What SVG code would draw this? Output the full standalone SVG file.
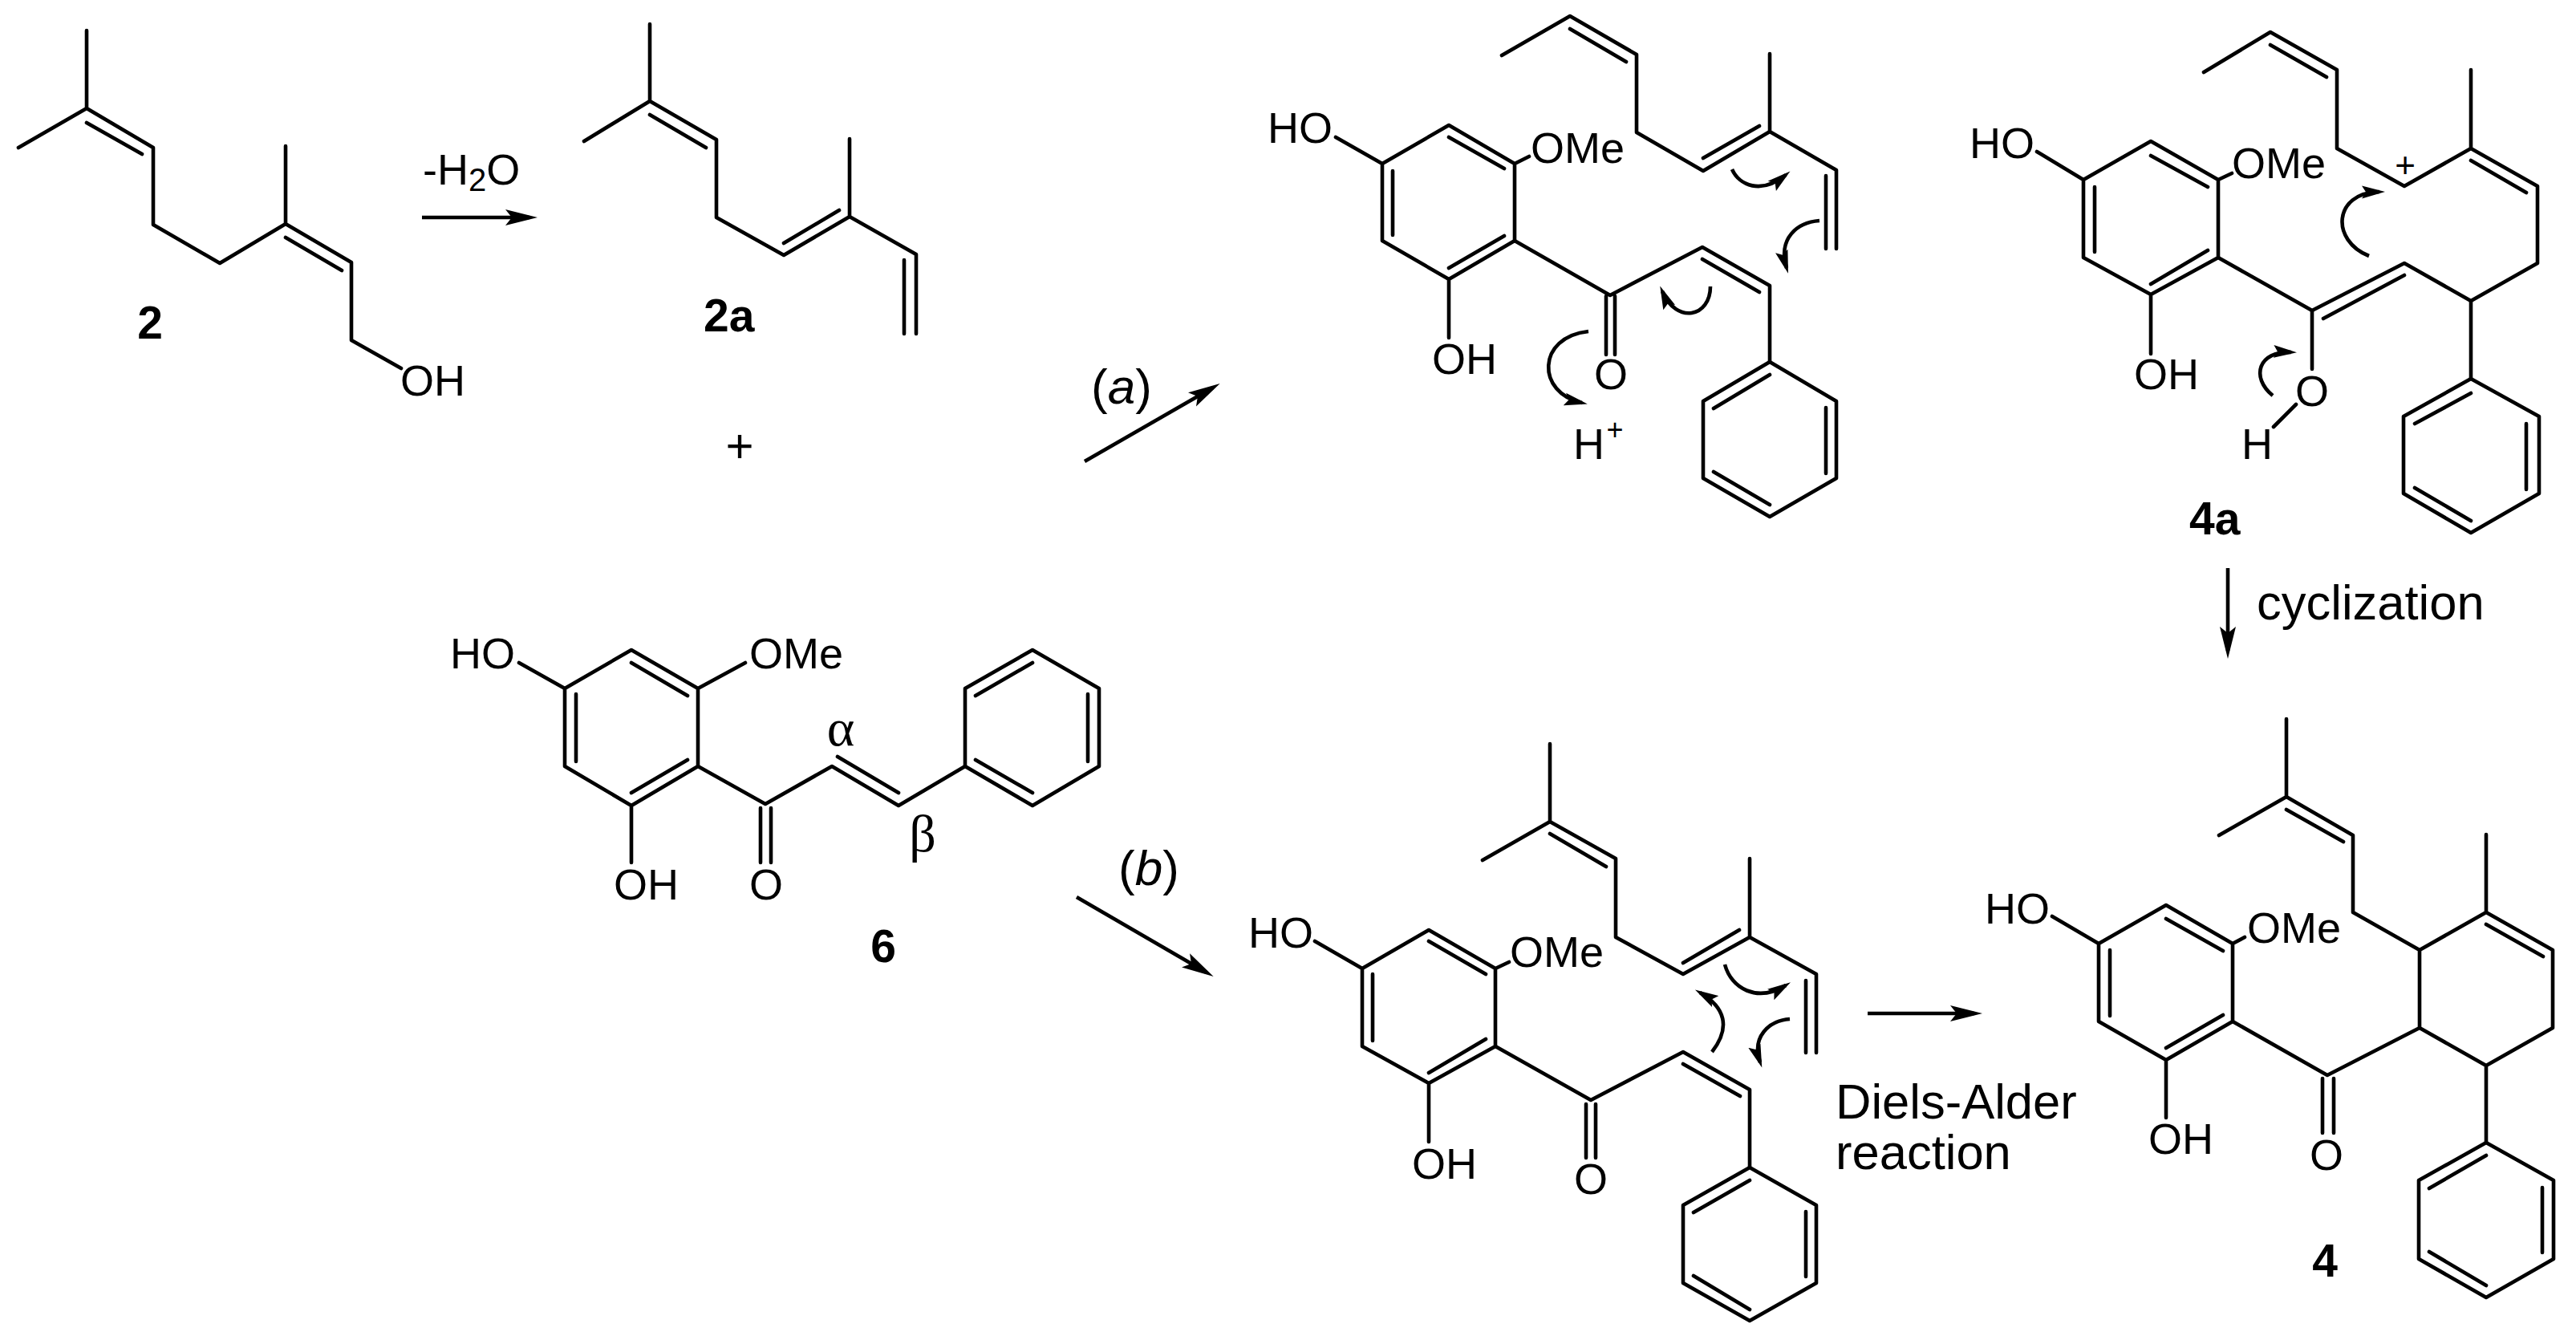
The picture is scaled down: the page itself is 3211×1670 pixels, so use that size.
<svg xmlns="http://www.w3.org/2000/svg" width="3211" height="1670" viewBox="0 0 3211 1670">
<style>
.b{fill:none;stroke:#000;stroke-width:4.6;stroke-linejoin:round;stroke-linecap:round}
.a{fill:none;stroke:#000;stroke-width:4.6}
.s{marker-end:url(#big)}
.c{marker-end:url(#small)}
text{font-family:"Liberation Sans",Arial,sans-serif;font-size:54px;fill:#000}
.l{font-weight:bold;font-size:57px}
.t{font-size:61.5px}
.g{font-family:"Liberation Serif","Times New Roman",serif;font-size:66px}
.m{text-anchor:middle}
</style>
<defs>
<marker id="big" markerUnits="userSpaceOnUse" markerWidth="42" markerHeight="22" refX="30" refY="11" orient="auto"><path d="M40,11 L0,1 L8,11 L0,21Z"/></marker>
<marker id="small" markerUnits="userSpaceOnUse" markerWidth="31" markerHeight="18" refX="22" refY="9" orient="auto"><path d="M29,9 L0,1 L5,9 L0,17Z"/></marker>
</defs>
<rect width="3211" height="1670" fill="#fff"/>

<g id="connectors">
<path class="a s" d="M526,271 L660,271"/>
<path class="a s" d="M1352,575 L1512,483"/>
<path class="a s" d="M1342,1118 L1504,1212"/>
<path class="a s" d="M2777,708 L2777,811"/>
<path class="a s" d="M2328,1263 L2461,1263"/>
<path class="a c" d="M2159,211 C2168,231 2195,243 2226,218"/>
<path class="a c" d="M2268,275 C2240,277 2216,297 2227,334"/>
<path class="a c" d="M2132,357 C2132,395 2090,405 2072,363"/>
<path class="a c" d="M1980,413 C1915,420 1915,490 1972,502"/>
<path class="a c" d="M2953,319 C2905,300 2908,240 2966,239"/>
<path class="a c" d="M2833,493 C2805,470 2815,437 2856,439"/>
<path class="a c" d="M2150,1202 C2158,1232 2190,1250 2226,1228"/>
<path class="a c" d="M2231,1270 C2205,1272 2183,1292 2194,1324"/>
<path class="a c" d="M2134,1311 C2158,1280 2150,1255 2119,1237"/>
</g>

<g id="node-2">
<path class="b" d="M108,38 L108,135 M23,184 L108,135 L191,184 L191,280 L274,328 L356,279 L438,327 L438,424 L500,459 M356,182 L356,279 M108,153 L177,192 M356,296 L426,337"/>
<text x="499" y="493">OH</text>
<text class="l m" x="187" y="422">2</text>
</g>

<g id="label-dehydration">
<text x="527" y="230">-H<tspan style="font-size:40px" dy="8">2</tspan><tspan dy="-8">O</tspan></text>
</g>

<g id="node-2a">
<path class="b" d="M810,30 L810,126 M728,176 L810,126 L893,174 L893,271 L977,318 L1059,270 L1142,317 L1142,416 M1059,173 L1059,270 M1127,324 L1127,416 M810,143 L880,184 M977,303 L1046,262"/>
<text class="l" x="877" y="413">2a</text>
</g>

<g id="plus"><text class="m" style="font-size:60px" x="922" y="576">+</text></g>

<g id="label-a"><text style="font-size:62px" x="1360" y="503">(<tspan font-style="italic">a</tspan>)</text></g>
<g id="label-b"><text style="font-size:62px" x="1394" y="1103">(<tspan font-style="italic">b</tspan>)</text></g>

<g id="node-intermediate-a">
<path class="b" d="M1872,69 L1957,20 L2040,68 L2040,165 L2123,213 L2206,164 L2289,212 L2289,310 M2206,67 L2206,164 M2276,219 L2276,310 M1957,36 L2027,77 M2123,197 L2193,157"/>
<path class="b" d="M1806,156 L1888,204 L1888,300 L1806,348 L1723,300 L1723,204 Z M1806,171 L1875,210 M1736,213 L1736,293 M1806,334 L1875,294 M1806,348 L1806,421 M1723,204 L1665,171 M1888,204 L1906,195"/>
<path class="b" d="M1888,300 L2007,368 L2122,308 L2206,356 L2206,451 M2122,323 L2193,364 M2002,369 L2002,442 M2013,369 L2013,442"/>
<path class="b" d="M2206,451 L2289,500 L2289,596 L2206,644 L2123,596 L2123,500 Z M2206,467 L2136,509 M2276,508 L2276,590 M2206,629 L2136,588"/>
<text x="1580" y="178">HO</text>
<text x="1908" y="203">OMe</text>
<text x="1785" y="466">OH</text>
<text class="m" x="2008" y="485">O</text>
<text x="1961" y="572">H</text>
<text class="m" style="font-size:36px" x="2013" y="548">+</text>
</g>

<g id="node-4a">
<path class="b" d="M2747,90 L2830,40 L2913,87 L2913,185 L2997,232 L3080,185 L3163,232 L3163,328 L3080,375 L2997,328 L2882,387 L2765,321 M3080,87 L3080,185 M2830,56 L2900,96 M3080,200 L3149,240 M2896,397 L2997,343"/>
<path class="b" d="M2681,176 L2765,224 L2765,321 L2681,367 L2597,321 L2597,224 Z M2681,194 L2752,233 M2611,233 L2611,314 M2681,354 L2752,312 M2597,224 L2539,189 M2765,224 L2782,216 M2681,367 L2681,441"/>
<path class="b" d="M2882,387 L2882,460 M2862,504 L2834,532 M3080,375 L3080,472"/>
<path class="b" d="M3080,472 L3165,519 L3165,615 L3080,664 L2996,615 L2996,519 Z M3080,490 L3010,528 M3149,528 L3149,610 M3080,649 L3010,608"/>
<text x="2455" y="197">HO</text>
<text x="2782" y="222">OMe</text>
<text x="2660" y="485">OH</text>
<text class="m" x="2882" y="506">O</text>
<text x="2794" y="572">H</text>
<text class="m" style="font-size:44px" x="2998" y="221">+</text>
<text class="l" x="2729" y="666">4a</text>
</g>

<g id="label-cyclization"><text class="t" x="2813" y="772">cyclization</text></g>

<g id="node-6">
<path class="b" d="M787,810 L870,858 L870,955 L787,1004 L704,955 L704,858 Z M787,826 L857,867 M718,865 L718,949 M787,988 L857,947 M704,858 L647,826 M870,858 L929,826 M787,1004 L787,1075"/>
<path class="b" d="M870,955 L954,1002 L1037,955 L1120,1004 L1203,955 M1044,943 L1120,988 M948,1007 L948,1075 M961,1007 L961,1075"/>
<path class="b" d="M1203,955 L1203,858 L1287,810 L1370,858 L1370,955 L1287,1004 Z M1216,867 L1287,826 M1356,865 L1356,949 M1216,947 L1287,988"/>
<text x="561" y="833">HO</text>
<text x="934" y="833">OMe</text>
<text class="g m" x="1048" y="929">α</text>
<text class="g m" x="1150" y="1061">β</text>
<text x="765" y="1121">OH</text>
<text class="m" x="955" y="1121">O</text>
<text class="l m" x="1101" y="1199">6</text>
</g>

<g id="node-intermediate-b">
<path class="b" d="M1932,927 L1932,1024 M1848,1072 L1932,1024 L2014,1070 L2014,1168 L2098,1214 L2181,1168 L2264,1214 L2264,1312 M2181,1070 L2181,1168 M2251,1222 L2251,1312 M1932,1039 L2002,1080 M2098,1200 L2168,1159"/>
<path class="b" d="M1781,1159 L1864,1207 L1864,1304 L1781,1350 L1698,1304 L1698,1207 Z M1781,1173 L1852,1214 M1711,1214 L1711,1297 M1781,1337 L1852,1295 M1698,1207 L1639,1173 M1864,1207 L1881,1199 M1781,1350 L1781,1423"/>
<path class="b" d="M1864,1304 L1983,1371 L2098,1311 L2181,1358 L2181,1455 M2098,1326 L2169,1366 M1977,1376 L1977,1443 M1989,1376 L1989,1443"/>
<path class="b" d="M2181,1455 L2264,1502 L2264,1599 L2181,1646 L2098,1599 L2098,1502 Z M2181,1471 L2111,1511 M2251,1510 L2251,1591 M2181,1632 L2111,1590"/>
<text x="1556" y="1181">HO</text>
<text x="1882" y="1205">OMe</text>
<text x="1760" y="1469">OH</text>
<text class="m" x="1983" y="1488">O</text>
</g>

<g id="label-diels-alder">
<text class="t" x="2288" y="1394">Diels-Alder</text>
<text class="t" x="2288" y="1457">reaction</text>
</g>

<g id="node-4">
<path class="b" d="M2850,896 L2850,993 M2766,1041 L2850,993 L2933,1041 L2933,1137 L3016,1184 L3099,1137 L3182,1184 L3182,1281 L3099,1328 L3016,1281 L3016,1184 M3099,1040 L3099,1137 M2850,1009 L2921,1049 M3099,1152 L3170,1192 M3016,1281 L2901,1340 L2783,1273 M3099,1328 L3099,1424"/>
<path class="b" d="M2700,1128 L2783,1176 L2783,1273 L2700,1321 L2616,1273 L2616,1176 Z M2700,1145 L2771,1185 M2630,1184 L2630,1266 M2700,1306 L2771,1265 M2616,1176 L2558,1142 M2783,1176 L2798,1168 M2700,1321 L2700,1393"/>
<path class="b" d="M2895,1344 L2895,1412 M2909,1344 L2909,1412"/>
<path class="b" d="M3099,1424 L3183,1471 L3183,1569 L3099,1617 L3015,1569 L3015,1471 Z M3099,1440 L3028,1481 M3169,1480 L3169,1561 M3099,1602 L3028,1560"/>
<text x="2474" y="1151">HO</text>
<text x="2801" y="1175">OMe</text>
<text x="2678" y="1438">OH</text>
<text class="m" x="2900" y="1458">O</text>
<text class="l m" x="2898" y="1591">4</text>
</g>
</svg>
